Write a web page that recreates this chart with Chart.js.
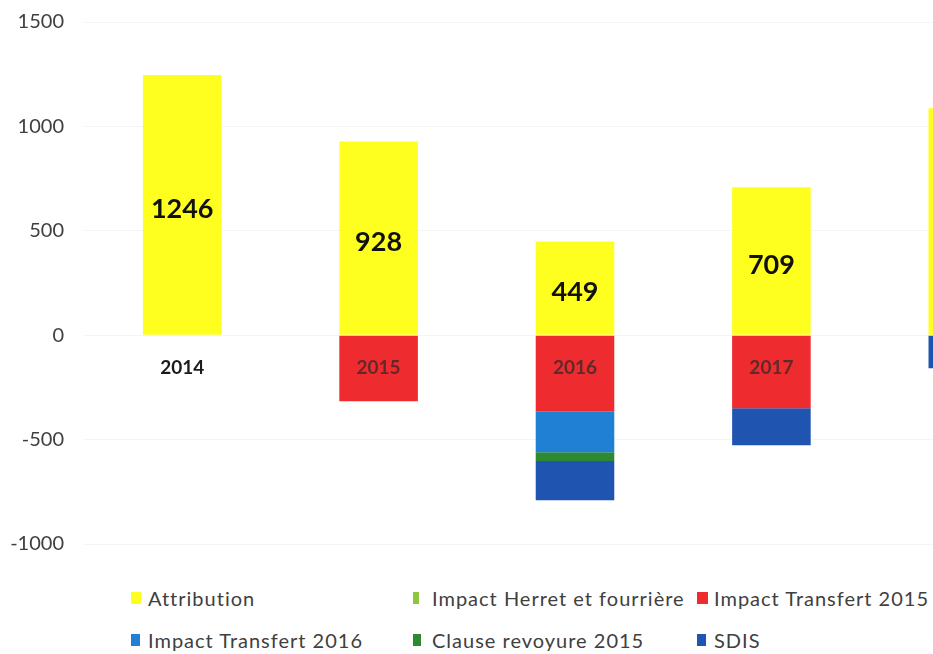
<!DOCTYPE html>
<html>
<head>
<meta charset="utf-8">
<script src="https://cdn.jsdelivr.net/npm/chart.js@4"></script>
<style>
    html, body { margin: 0; padding: 0; background: #fff; overflow: hidden; }
    #wrap { position: relative; width: 933px; height: 654px; overflow: hidden; }
    #chart { position: absolute; left: 0; top: -10px; }
    .lg { position: absolute; font-family: Lato, sans-serif; font-size: 20px; color: #404040; letter-spacing: 1px; white-space: nowrap; line-height: 24px; }
    .lg i { position: absolute; top: 6px; height: 12px; }
</style>
</head>
<body>
<div id="wrap">
    <canvas id="chart" width="1080" height="586"></canvas>
</div>
<script>
// Chart data
const years = ['2014', '2015', '2016', '2017', '2018'];
const attribution = [1246, 928, 449, 709, 1087];
const impactHerret = [0, 0, 0, 0, 0];
const transfert2015 = [0, -316, -364, -350, 0];
const transfert2016 = [0, 0, -196, 0, 0];
const clauseRevoyure = [0, 0, -43, 0, 0];
const sdis = [0, 0, -187, -177, -158];
const yTicks = [1500, 1000, 500, 0, -500, -1000];

const series = [
    { label: 'Attribution', data: attribution, color: '#ffff1f' },
    { label: 'Impact Herret et fourrière', data: impactHerret, color: '#8dc63f' },
    { label: 'Impact Transfert 2015', data: transfert2015, color: '#ee2b2f' },
    { label: 'Impact Transfert 2016', data: transfert2016, color: '#1f80d4' },
    { label: 'Clause revoyure 2015', data: clauseRevoyure, color: '#2e8a30' },
    { label: 'SDIS', data: sdis, color: '#1f55b0' }
];

// Bold totals inside yellow bars + year labels on the zero line
const labelsPlugin = {
    id: 'labels',
    afterDatasetsDraw(chart) {
        const ctx = chart.ctx;
        const y = chart.scales.y;
        const meta = chart.getDatasetMeta(0);
        ctx.save();
        ctx.textAlign = 'center';
        ctx.textBaseline = 'middle';
        meta.data.forEach((bar, i) => {
            ctx.fillStyle = '#111';
            ctx.font = 'bold 27px Lato';
            ctx.fillText(attribution[i], bar.x, (bar.y + bar.base) / 2 + 4);

            ctx.font = 'bold 19px Lato';
            ctx.fillStyle = transfert2015[i] < 0 ? 'rgba(40,40,40,0.7)' : '#1a1a1a';
            ctx.fillText(years[i], bar.x, y.getPixelForValue(0) + 33);
        });
        ctx.restore();
    }
};

const ctx = document.getElementById('chart').getContext('2d');
const chart = new Chart(ctx, {
    type: 'bar',
    data: {
        labels: years,
        datasets: series.map(s => ({
            label: s.label,
            data: s.data,
            backgroundColor: s.color,
            borderWidth: 0,
            barPercentage: 0.4,
            categoryPercentage: 1
        }))
    },
    options: {
        responsive: false,
        animation: false,
        layout: { padding: { top: 13, bottom: 18, left: 0, right: 14 } },
        plugins: {
            legend: { display: false },
            tooltip: { enabled: false }
        },
        scales: {
            x: { display: false, stacked: true },
            y: {
                stacked: true,
                min: -1000,
                max: 1500,
                afterFit(scale) { scale.width = 84; },
                afterBuildTicks(scale) { scale.ticks = yTicks.map(v => ({ value: v })); },
                ticks: {
                    color: '#404040',
                    font: { family: 'Lato', size: 20 },
                    padding: 20,
                    callback: v => String(v)
                },
                grid: { color: '#f4f4f4', drawTicks: false },
                border: { display: false }
            }
        }
    },
    plugins: [labelsPlugin]
});

// Legend in two rows of three, like the original
const wrap = document.getElementById('wrap');
const cols = [131, 413, 697];
const rows = [586, 628];
const markerW = [10, 6, 11, 9, 8, 9];
series.forEach((s, i) => {
    const el = document.createElement('div');
    el.className = 'lg';
    el.style.left = cols[i % 3] + 'px';
    el.style.top = rows[Math.floor(i / 3)] + 'px';
    el.style.paddingLeft = (i % 3 === 1 ? 19 : 17) + 'px';
    const m = document.createElement('i');
    m.style.left = '0px';
    m.style.width = markerW[i] + 'px';
    m.style.background = s.color;
    el.appendChild(m);
    el.appendChild(document.createTextNode(s.label));
    wrap.appendChild(el);
});
</script>
</body>
</html>
